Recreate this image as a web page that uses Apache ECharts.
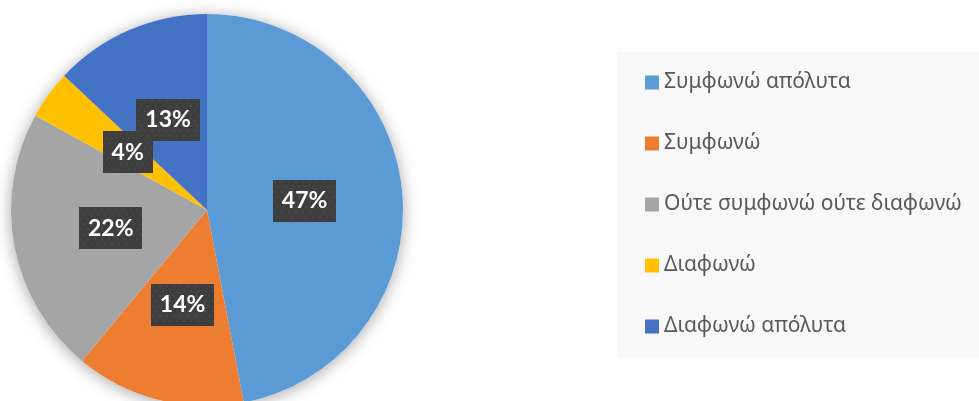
<!DOCTYPE html>
<html>
<head>
<meta charset="utf-8">
<script src="https://cdn.jsdelivr.net/npm/echarts@6/dist/echarts.min.js"></script>
<style>
html,body{margin:0;padding:0;background:#fff;}
#chart{width:979px;height:401px;}
</style>
</head>
<body>
<div id="chart"></div>
<script>
const categories = ['Συμφωνώ απόλυτα', 'Συμφωνώ', 'Ούτε συμφωνώ ούτε διαφωνώ', 'Διαφωνώ', 'Διαφωνώ απόλυτα'];
const values = [47, 14, 22, 4, 13];
const colors = ['#5B9BD5', '#ED7D31', '#A5A5A5', '#FFC000', '#4472C4'];

const CX = 207, CY = 210, R = 196;
const total = values.reduce((a, b) => a + b, 0);

// subtle dotted texture for label boxes
const tex = document.createElement('canvas');
tex.width = 63; tex.height = 42;
(function () {
  const g = tex.getContext('2d');
  g.fillStyle = '#3e3e3e';
  g.fillRect(0, 0, tex.width, tex.height);
  g.fillStyle = '#4d4d4d';
  for (let y = 2, row = 0; y < tex.height; y += 5, row++) {
    for (let x = (row % 2) ? 5 : 2; x < tex.width; x += 7) {
      g.beginPath(); g.arc(x, y, 1.1, 0, Math.PI * 2); g.fill();
    }
  }
})();

const chart = echarts.init(document.getElementById('chart'));
chart.setOption({
  animation: false,
  graphic: [{
    type: 'rect', left: 617, top: 52, z: -10,
    shape: { width: 362, height: 305 },
    style: { fill: '#F8F8F8' }
  }],
  legend: {
    orient: 'vertical',
    left: 645, top: 72,
    padding: 0,
    icon: 'rect',
    itemWidth: 14, itemHeight: 14,
    itemGap: 40,
    data: categories,
    textStyle: { fontFamily: 'Noto Sans', fontSize: 21, color: '#595959', lineHeight: 21 }
  },
  series: [
    {
      type: 'pie', silent: true, center: [CX, CY], radius: R,
      z: 1,
      label: { show: false }, labelLine: { show: false },
      itemStyle: { color: '#fff', shadowBlur: 16, shadowColor: 'rgba(0,0,0,0.35)', shadowOffsetY: 2 },
      data: [{ value: 1, name: '_bg' }]
    },
    {
      type: 'pie', center: [CX, CY], radius: R, startAngle: 90, clockwise: true,
      z: 2,
      avoidLabelOverlap: false,
      color: colors,
      itemStyle: { borderWidth: 0 },
      label: {
        show: true, position: 'outside',
        formatter: '{c}%',
        color: '#fff', fontFamily: 'Lato', fontWeight: 'bold', fontSize: 23, lineHeight: 26,
        backgroundColor: { image: tex }, padding: [8, 9],
        shadowColor: 'rgba(0,0,0,0.45)', shadowBlur: 6, shadowOffsetX: 2, shadowOffsetY: 2
      },
      labelLine: { show: false },
      labelLayout: function (p) {
        let cum = 0;
        for (let i = 0; i < p.dataIndex; i++) cum += values[i];
        const mid = (cum + values[p.dataIndex] / 2) / total * 2 * Math.PI;
        return {
          x: CX + R / 2 * Math.sin(mid),
          y: CY - R / 2 * Math.cos(mid),
          align: 'center', verticalAlign: 'middle', hideOverlap: false, moveOverlap: null
        };
      },
      data: categories.map((n, i) => ({ name: n, value: values[i] }))
    }
  ]
});
</script>
</body>
</html>
